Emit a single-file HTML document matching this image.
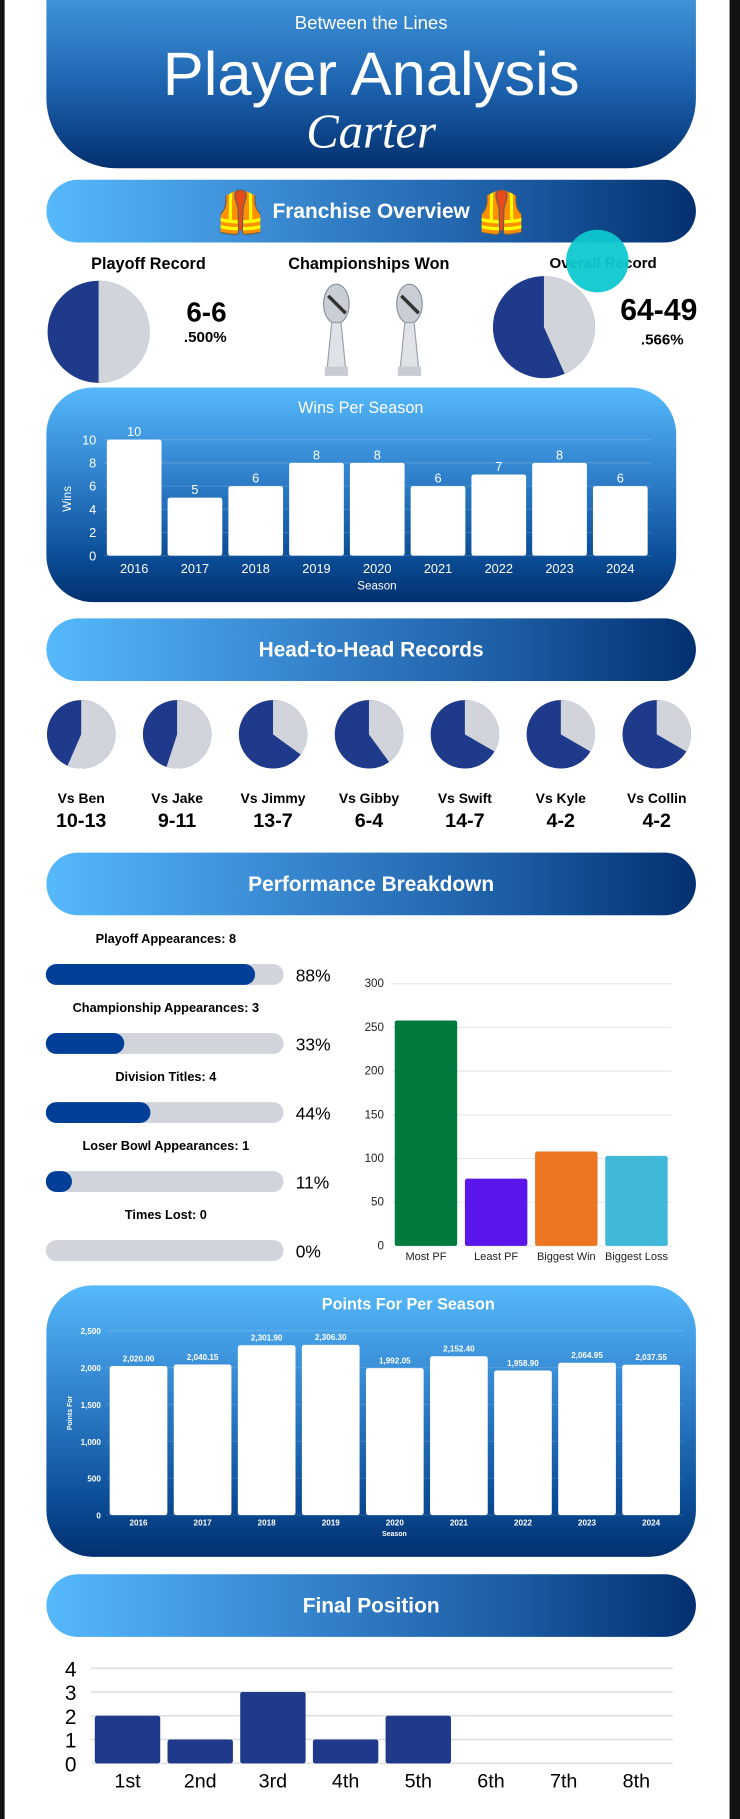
<!DOCTYPE html>
<html><head><meta charset="utf-8"><style>
html,body{margin:0;padding:0;background:#101214;width:740px;height:1819px;overflow:hidden}
#page{position:absolute;left:0;top:0;width:638px;height:1568px;transform:scale(1.15987,1.16008);transform-origin:0 0;font-family:"Liberation Sans",sans-serif}
#white{position:absolute;left:4px;top:0;width:625px;height:1568px;background:#fff}
.abs{position:absolute}
.banner{position:absolute;left:40px;width:560px;height:54px;border-radius:27px;background:linear-gradient(90deg,#56b9fc 0%,#3a8ad2 35%,#1d5ea6 70%,#03306f 100%);color:#fff;font-weight:bold;font-size:18px;text-align:center;line-height:54px}
.panel{position:absolute;background:linear-gradient(180deg,#56b9fc 0%,#2c7bc6 45%,#0a4c95 80%,#03306f 100%)}
.lbl{position:absolute;text-align:center;font-weight:bold;color:#000}
svg text{font-family:"Liberation Sans",sans-serif}
</style></head><body>
<div id="page">
<div id="white"></div>

<div class="panel" style="left:40px;top:0;width:560px;height:145px;border-radius:0 0 60px 60px;background:linear-gradient(180deg,#3f92d8 0%,#1e64b0 50%,#03306f 100%)">
  <div class="abs" style="left:0;width:560px;top:12px;text-align:center;color:#fff;font-size:16px">Between the Lines</div>
  <div class="abs" style="left:0;width:560px;top:34px;text-align:center;color:#fff;font-size:53px;line-height:62px">Player Analysis</div>
  <div class="abs" style="left:0;width:560px;top:90px;text-align:center;color:#fff;font-size:42px;font-style:italic;font-family:'Liberation Serif',serif">Carter</div>
</div>

<div class="banner" style="top:155px"><span style="font-size:36px;vertical-align:middle">🦺</span> Franchise Overview <span style="font-size:36px;vertical-align:middle">🦺</span></div>

<div class="lbl" style="left:48px;width:160px;top:219px;font-size:14px">Playoff Record</div>
<div class="lbl" style="left:218px;width:200px;top:219px;font-size:14px">Championships Won</div>
<div class="lbl" style="left:440px;width:160px;top:219px;font-size:13px">Overall Record</div>
<div class="abs" style="left:488px;top:198px;width:54px;height:54px;border-radius:50%;background:rgba(14,200,208,0.95)"></div>

<svg class="abs" style="left:0;top:0" width="638" height="340">
  <g id="playoffPie"></g>
  <g id="overallPie"></g>
  <g transform="translate(290,0)">
    <ellipse cx="0" cy="262" rx="11" ry="17" fill="#c9ced4" stroke="#8a9099"/>
    <path d="M-7 255 L8 270" stroke="#333" stroke-width="3"/>
    <path d="M-4 278 L4 278 L8 318 L-8 318 Z" fill="#dfe3e8" stroke="#9aa0a8"/>
    <rect x="-10" y="316" width="20" height="8" fill="#c8ccd2"/>
  </g>
  <g transform="translate(353,0)">
    <ellipse cx="0" cy="262" rx="11" ry="17" fill="#c9ced4" stroke="#8a9099"/>
    <path d="M-7 255 L8 270" stroke="#333" stroke-width="3"/>
    <path d="M-4 278 L4 278 L8 318 L-8 318 Z" fill="#dfe3e8" stroke="#9aa0a8"/>
    <rect x="-10" y="316" width="20" height="8" fill="#c8ccd2"/>
  </g>
  <text x="178" y="277" text-anchor="middle" font-size="24" font-weight="bold">6-6</text>
  <text x="177" y="295" text-anchor="middle" font-size="13" font-weight="bold">.500%</text>
  <text x="568" y="276" text-anchor="middle" font-size="26" font-weight="bold">64-49</text>
  <text x="571" y="297" text-anchor="middle" font-size="13" font-weight="bold">.566%</text>
</svg>

<div class="panel" style="left:40px;top:334px;width:543px;height:185px;border-radius:40px"></div>
<svg id="winsChart" class="abs" style="left:0;top:334px" width="638" height="185"></svg>

<div class="banner" style="top:533px">Head-to-Head Records</div>
<svg id="h2h" class="abs" style="left:0;top:595px" width="638" height="130"></svg>

<div class="banner" style="top:735px">Performance Breakdown</div>
<svg id="perf" class="abs" style="left:0;top:795px" width="638" height="300"></svg>

<div class="panel" style="left:40px;top:1108px;width:560px;height:234px;border-radius:40px"></div>
<svg id="pfChart" class="abs" style="left:0;top:1108px" width="638" height="234"></svg>

<div class="banner" style="top:1357px">Final Position</div>
<svg id="fpChart" class="abs" style="left:0;top:1420px" width="638" height="140"></svg>
</div>

<script>
const NS="http://www.w3.org/2000/svg";
const NAVY="#1f3a8a", GRAY="#d1d5db";
// Overview data
const playoffWins=6, playoffLosses=6;
const overallWins=64, overallLosses=49;
// Wins per season
const winSeasons=["2016","2017","2018","2019","2020","2021","2022","2023","2024"];
const winValues=[10,5,6,8,8,6,7,8,6];
const winTicks=[0,2,4,6,8,10];
// Head to head
const h2hNames=["Vs Ben","Vs Jake","Vs Jimmy","Vs Gibby","Vs Swift","Vs Kyle","Vs Collin"];
const h2hWins=[10,9,13,6,14,4,4];
const h2hLosses=[13,11,7,4,7,2,2];
// Performance breakdown
const perfLabels=["Playoff Appearances: 8","Championship Appearances: 3","Division Titles: 4","Loser Bowl Appearances: 1","Times Lost: 0"];
const perfPct=[88,33,44,11,0];
const pbCats=["Most PF","Least PF","Biggest Win","Biggest Loss"];
const pbValues=[258,77,108,103];
const pbColors=["#007a3d","#5b17eb","#ec7522","#41b8d8"];
const pbTicks=[0,50,100,150,200,250,300];
// Points for
const pfSeasons=["2016","2017","2018","2019","2020","2021","2022","2023","2024"];
const pfValues=[2020.00,2040.15,2301.90,2306.30,1992.05,2152.40,1958.90,2064.95,2037.55];
const pfTicks=[0,500,1000,1500,2000,2500];
// Final position
const fpCats=["1st","2nd","3rd","4th","5th","6th","7th","8th"];
const fpValues=[2,1,3,1,2,0,0,0];
const fpTicks=[0,1,2,3,4];

function mk(tag,attrs,parent){const e=document.createElementNS(NS,tag);for(const k in attrs)e.setAttribute(k,attrs[k]);if(parent)parent.appendChild(e);return e;}
function txt(parent,x,y,s,size,opts){const t=mk("text",{x:x,y:y,"font-size":size,"text-anchor":(opts&&opts.anchor)||"middle",fill:(opts&&opts.fill)||"#000","font-weight":(opts&&opts.bold)?"bold":"normal"},parent);t.textContent=s;return t;}
function pie(g,cx,cy,r,wins,losses){
  const fl=losses/(wins+losses);
  mk("circle",{cx:cx,cy:cy,r:r,fill:NAVY},g);
  if(fl>=1){mk("circle",{cx:cx,cy:cy,r:r,fill:GRAY},g);return;}
  if(fl<=0)return;
  const a=fl*2*Math.PI, x=cx+r*Math.sin(a), y=cy-r*Math.cos(a);
  const p=mk("path",{d:`M${cx} ${cy} L${cx} ${cy-r} A${r} ${r} 0 ${fl>0.5?1:0} 1 ${x} ${y} Z`,fill:GRAY},g);
  
  
}
pie(document.getElementById("playoffPie"),85,286,44,playoffWins,playoffLosses);
pie(document.getElementById("overallPie"),469,282,44,overallWins,overallLosses);

// Wins chart
(function(){
  const s=document.getElementById("winsChart");
  const x0=89.5,x1=561,yTop=45,yBot=145,max=10;
  const y=v=>yBot-(v/max)*(yBot-yTop);
  const band=(x1-x0)/winSeasons.length;
  txt(s,311,22,"Wins Per Season",14,{fill:"#fff"});
  winTicks.forEach(t=>{
    const l=mk("line",{x1:x0,x2:x1,y1:y(t),y2:y(t),stroke:"rgba(255,255,255,0.15)"},s);
    
    const tt=txt(s,83,y(t)+4,String(t),11,{fill:"#fff",anchor:"end"});
    
  });
  winValues.forEach((v,i)=>{
    const cx=x0+band*(i+0.5),w=band*0.9;
    const r=mk("rect",{x:cx-w/2,y:y(v),width:w,height:yBot-y(v),rx:2,fill:"#fff"},s);
    
    const vt=txt(s,cx,y(v)-3,String(v),11,{fill:"#fff"});
    
    const xt=txt(s,cx,160,winSeasons[i],11,{fill:"#fff"});
    
  });
  const st=txt(s,325,174,"Season",10,{fill:"#fff"});
  
  const wt=txt(s,0,0,"Wins",10,{fill:"#fff"});wt.setAttribute("transform","translate(61,96) rotate(-90)");
  
})();

// H2H
(function(){
  const s=document.getElementById("h2h");
  h2hNames.forEach((n,i)=>{
    const cx=70+i*82.7;
    const g=mk("g",{},s);
    
    pie(g,cx,38,29.5,h2hWins[i],h2hLosses[i]);
    const a=txt(s,cx,97,n,12,{bold:true});
    
    const b=txt(s,cx,118,h2hWins[i]+"-"+h2hLosses[i],17,{bold:true});
    
  });
})();

// Performance
(function(){
  const s=document.getElementById("perf");
  perfLabels.forEach((l,i)=>{
    const yc=45+i*59.5;
    const t=txt(s,143,yc-27,l,11,{bold:true});
    
    const bg=mk("rect",{x:39.5,y:yc-9,width:205,height:18,rx:9,fill:GRAY},s);
    
    if(perfPct[i]>0){const w=Math.max(18,205*perfPct[i]/100);
      const f=mk("rect",{x:39.5,y:yc-9,width:w,height:18,rx:9,fill:"#003f98"},s);
      }
    const p=txt(s,255,yc+6,perfPct[i]+"%",15,{anchor:"start"});
    
  });
  const x0=337,x1=579,yTop=53,yBot=279,max=300;
  const y=v=>yBot-(v/max)*(yBot-yTop);
  pbTicks.forEach(t=>{
    const l=mk("line",{x1:x0,x2:x1,y1:y(t),y2:y(t),stroke:"#e5e7eb"},s);
    
    const tt=txt(s,331,y(t)+3,String(t),10,{anchor:"end",fill:"#222"});
    
  });
  const band=(x1-x0)/pbCats.length;
  pbValues.forEach((v,i)=>{
    const cx=x0+band*(i+0.5),w=band*0.89;
    const r=mk("rect",{x:cx-w/2,y:y(v),width:w,height:yBot-y(v),rx:2,fill:pbColors[i]},s);
    
    const xt=txt(s,cx,291,pbCats[i],9.5,{fill:"#222"});
    
  });
})();

// Points for
(function(){
  const s=document.getElementById("pfChart");
  const x0=91.8,x1=589,yTop=39,yBot=198,max=2500;
  const y=v=>yBot-(v/max)*(yBot-yTop);
  const t0=txt(s,352,21,"Points For Per Season",14,{fill:"#fff",bold:true});
  
  pfTicks.forEach(t=>{
    const l=mk("line",{x1:x0,x2:x1,y1:y(t),y2:y(t),stroke:"rgba(255,255,255,0.12)"},s);
    
    const tt=txt(s,87,y(t)+3,t.toLocaleString("en-US"),7,{fill:"#fff",anchor:"end",bold:true});
    
  });
  const band=(x1-x0)/pfSeasons.length;
  pfValues.forEach((v,i)=>{
    const cx=x0+band*(i+0.5),w=band*0.9;
    const r=mk("rect",{x:cx-w/2,y:y(v),width:w,height:yBot-y(v),rx:2,fill:"#fff"},s);
    
    const vt=txt(s,cx,y(v)-4,v.toLocaleString("en-US",{minimumFractionDigits:2,maximumFractionDigits:2}),7,{fill:"#fff",bold:true});
    
    const xt=txt(s,cx,207,pfSeasons[i],7,{fill:"#fff",bold:true});
    
  });
  const st=txt(s,340,216,"Season",6,{fill:"#fff",bold:true});
  
  const yt=txt(s,0,0,"Points For",6,{fill:"#fff",bold:true});yt.setAttribute("transform","translate(62,110) rotate(-90)");
  
})();

// Final position
(function(){
  const s=document.getElementById("fpChart");
  const x0=78.6,x1=580,yTop=18,yBot=100,max=4;
  const y=v=>yBot-(v/max)*(yBot-yTop);
  fpTicks.forEach(t=>{
    const l=mk("line",{x1:x0,x2:x1,y1:y(t),y2:y(t),stroke:"#dcdde0","stroke-width":1.3},s);
    
    const tt=txt(s,66,y(t)+7,String(t),18,{anchor:"end"});
    
  });
  const band=(x1-x0)/fpCats.length;
  fpValues.forEach((v,i)=>{
    const cx=x0+band*(i+0.5),w=band*0.9;
    if(v>0){const r=mk("rect",{x:cx-w/2,y:y(v),width:w,height:yBot-y(v),rx:2,fill:NAVY},s);
      }
    const xt=txt(s,cx,121,fpCats[i],17);
    
  });
})();
</script>
</body></html>
